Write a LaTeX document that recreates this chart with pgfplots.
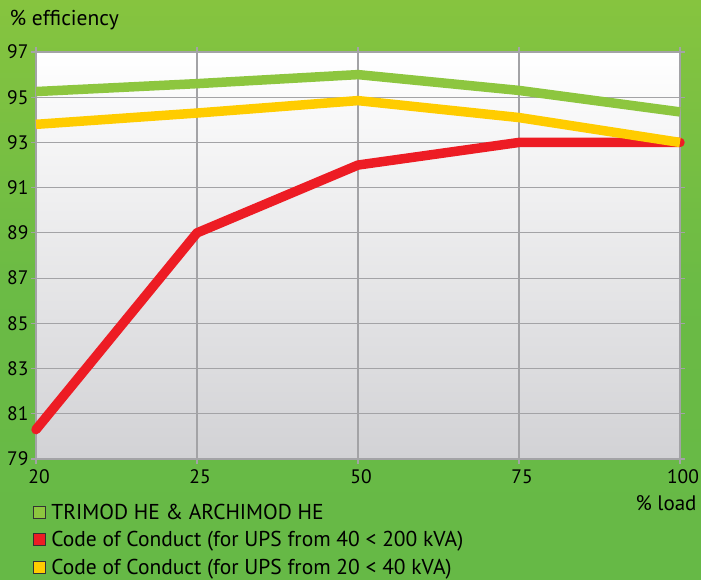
\documentclass[border=0pt]{standalone}
\usepackage{pgfplots}
\pgfplotsset{compat=1.18}
\usepackage{fontspec}
\setmainfont{PT Sans}
\definecolor{bgtop}{HTML}{86C43F}
\definecolor{bgbot}{HTML}{66B946}
\definecolor{lgreen}{HTML}{8DC63F}
\definecolor{lyellow}{HTML}{FFCC00}
\definecolor{lred}{HTML}{ED1C24}
\definecolor{gridc}{HTML}{A3A3A6}
\definecolor{plotbot}{HTML}{D2D2D5}
\begin{document}
\begin{tikzpicture}[x=1pt,y=1pt]
\useasboundingbox (0,0) rectangle (701,580);
\shade[top color=bgtop, bottom color=bgbot, middle color=bgbot!85!bgtop] (0,0) rectangle (701,580);
\begin{axis}[
  at={(36pt,121pt)}, anchor=south west,
  scale only axis, width=644pt, height=407pt,
  xmin=0, xmax=4, ymin=79, ymax=97,
  xtick={0,1,2,3,4}, xticklabels={20,25,50,75,100},
  ytick={79,81,...,97},
  axis background/.style={shade, top color=white, bottom color=plotbot},
  axis line style={gridc, line width=2.5pt},
  grid=major, grid style={gridc, line width=1.2pt},
  tick style={gridc, line width=1.2pt},
  tick align=outside, major tick length=5pt,
  tick label style={font=\fontsize{19.5}{19.5}\selectfont, text=black},
  /pgf/number format/assume math mode=true,
  xticklabel style={yshift=-2pt, xshift=3pt},
  yticklabel style={xshift=1pt},
  clip=false,
  legend style={at={(-0.005,-0.108)}, anchor=north west, draw=none, fill=none,
    font=\fontsize{21.5}{21.5}\selectfont, row sep=8.5pt, inner sep=0pt,
    nodes={inner sep=1pt}},
  legend cell align=left,
]
\addlegendimage{legend image code/.code={\draw[fill=lgreen, draw=black!80, line width=0.8pt] (0pt,-6pt) rectangle (12pt,6pt); \path[draw=none,fill=none] (0pt,0pt) -- (17pt,0pt);}}
\addlegendentry{TRIMOD HE \& ARCHIMOD HE}
\addlegendimage{legend image code/.code={\draw[fill=lred, draw=black!80, line width=0.8pt] (0pt,-6pt) rectangle (12pt,6pt); \path[draw=none,fill=none] (0pt,0pt) -- (17pt,0pt);}}
\addlegendentry{Code of Conduct (for UPS from 40 < 200 kVA)}
\addlegendimage{legend image code/.code={\draw[fill=lyellow, draw=black!80, line width=0.8pt] (0pt,-6pt) rectangle (12pt,6pt); \path[draw=none,fill=none] (0pt,0pt) -- (17pt,0pt);}}
\addlegendentry{Code of Conduct (for UPS from 20 < 40 kVA)}
\addplot[forget plot, lred, line width=9.5pt, line cap=round, line join=round] coordinates {(0,80.3) (1,89.0) (2,92.0) (3,93.0) (4,93.0)};
\addplot[forget plot, lyellow, line width=9.5pt, line join=round] coordinates {(0,93.8) (1,94.3) (2,94.85) (3,94.1) (4,93.0)};
\addplot[forget plot, lgreen, line width=9.5pt, line join=round] coordinates {(0,95.25) (1,95.6) (2,96.0) (3,95.3) (4,94.35)};
\end{axis}
\node[anchor=west, font=\fontsize{21.5}{21.5}\selectfont] at (6,560) {\% efficiency};
\node[anchor=east, font=\fontsize{21}{21}\selectfont] at (700,77) {\% load};
\end{tikzpicture}
\end{document}
